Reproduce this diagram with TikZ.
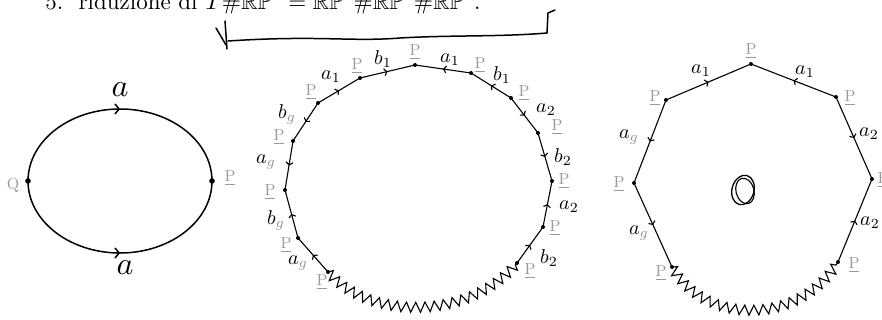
\documentclass[tikz,border=0pt]{standalone}
\usepackage{amsmath,amssymb}
\usetikzlibrary{decorations.pathmorphing,decorations.markings,arrows.meta}

\newcommand{\gq}{\textcolor{gray!85}{g}}

\tikzset{
  lato/.style={line width=1.1pt,postaction={decorate},decoration={markings,mark=at position .5 with {\arrow{Straight Barb[length=2.5pt,width=7pt]}}}},
  latoinv/.style={line width=1.1pt,postaction={decorate},decoration={markings,mark=at position .5 with {\arrowreversed{Straight Barb[length=2.5pt,width=7pt]}}}},
  arco/.style={line width=1.5pt,postaction={decorate},decoration={markings,mark=at position .5 with {\arrow{Straight Barb[length=4pt,width=10pt]}}}},
  seghetto/.style={line width=1.1pt,decorate,decoration={zigzag,segment length=9.5pt,amplitude=5pt}},
  penna/.style={line width=1.5pt,line cap=round,line join=round},
  etP/.style={text=gray!80,scale=1.6,inner sep=0pt},
  etLato/.style={scale=2,inner sep=0pt},
}

\begin{document}
\begin{tikzpicture}[x=1pt,y=-1pt]
 \useasboundingbox (0,0) rectangle (882,320); % margini

 % titolo (tagliato in alto come nell'originale)
 \node[anchor=base west,inner sep=0pt,scale=2.3] (titolo) at (45,10)
   {5.\ \ riduzione di $T\#\mathbb{RP}^2=\mathbb{RP}^2\#\mathbb{RP}^2\#\mathbb{RP}^2$.};

 % freccia a mano
 \draw[penna] (225,21) -- (227,49);
 \draw[penna] (216,28) -- (226,45);
 \draw[penna] (228,41) .. controls (320,35) and (350,42) .. (400,38)
   .. controls (450,35) and (500,37) .. (547,33) -- (548,13) -- (555,10);

 % --- ellisse: RP^2 ---
 \coordinate (Esx) at (28,181); % vertice sinistro
 \coordinate (Edx) at (212,181); % vertice destro
 \draw[arco] (Esx) arc (180:360:92 and 72); % arco sopra
 \draw[arco] (Esx) arc (180:0:92 and 72); % arco sotto
 \fill (Esx) circle (2.8pt);
 \fill (Edx) circle (2.8pt);
 \node[scale=3.2] (aSu) at (120,90) {$a$};
 \node[scale=3.2] (aGiu) at (125,268) {$a$};
 \node[etP] (Q0) at (13,185) {Q};
 \node[etP] (P0) at (230,178) {\underline{P}};

 % --- poligono 2 ---
 \foreach \x/\y [count=\i] in {328/272,298/238,285/190,293/141,318/103,360/78,415/65,
                               471/73,511/98,538/133,552/181,543/227,517/263}
   \coordinate (v\i) at (\x,\y);
 \foreach \a/\b/\s in {v1/v2/lato,v2/v3/lato,v3/v4/latoinv,v4/v5/latoinv,
                       v5/v6/lato,v6/v7/lato,v7/v8/latoinv,v8/v9/latoinv,
                       v9/v10/lato,v10/v11/lato,v11/v12/latoinv,v12/v13/latoinv}
   \draw[\s] (\a) -- (\b);
 \draw[seghetto] (v1) .. controls (370,321) and (470,320) .. (v13); % bordo a zigzag
 \foreach \i in {1,...,13} \fill (v\i) circle (2pt);
 \foreach \x/\y [count=\i] in {322/282,286/245,270/192,279/137,311/92,357/66,415/52,
                               480/65,524/93,557/127,564/181,555/228,530/271}
   \node[etP] (pv\i) at (\x,\y) {\underline{P}};
 \foreach \x/\y/\t [count=\i] in {298/263/$a_{\gq}$,276/220/$b_{\gq}$,266/162/$a_{\gq}$,
                                  287/114/$b_{\gq}$,331/77/$a_1$,383/59/$b_1$,450/60/$a_1$,
                                  502/75/$b_1$,546/110/$a_2$,563/157/$b_2$,569/207/$a_2$,
                                  549/258/$b_2$}
   \node[etLato] (ev\i) at (\x,\y) {\t};

 % --- poligono 3 ---
 \foreach \x/\y [count=\i] in {672/267,634/183,666/100,751/64,836/97,872/179,838/262}
   \coordinate (w\i) at (\x,\y);
 \foreach \a/\b/\s in {w1/w2/latoinv,w2/w3/latoinv,w3/w4/lato,w4/w5/latoinv,
                       w5/w6/lato,w6/w7/latoinv}
   \draw[\s] (\a) -- (\b);
 \draw[seghetto] (w1) .. controls (705,326) and (800,325) .. (w7); % bordo a zigzag
 \foreach \i in {1,...,7} \fill (w\i) circle (2pt);
 \foreach \x/\y [count=\i] in {661/273,619/184,655/98,751/51,850/98,883/180,854/265}
   \node[etP] (pw\i) at (\x,\y) {\underline{P}};
 \foreach \x/\y/\t [count=\i] in {639/233/$a_{\gq}$,629/137/$a_{\gq}$,701/71/$a_1$,
                                  805/72/$a_1$,869/134/$a_2$,870/223/$a_2$}
   \node[etLato] (ew\i) at (\x,\y) {\t};

 % disegno a mano al centro
 \draw[penna,line width=1.3pt,rotate around={-15:(743,190)}] (743,190) ellipse (11 and 15);
 \draw[penna,line width=1.1pt,rotate around={15:(745,191)}] (745,191) ellipse (9 and 13);
\end{tikzpicture}
\end{document}
